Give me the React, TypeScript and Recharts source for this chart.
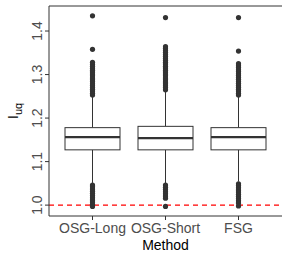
import React from 'react'
import { ComposedChart, Bar, Scatter, XAxis, YAxis, ReferenceLine } from 'recharts'

const methods = ['OSG-Long', 'OSG-Short', 'FSG']
const whiskerLow = [1.051, 1.05, 1.054]
const q1 = [1.127, 1.127, 1.127]
const median = [1.156, 1.154, 1.156]
const q3 = [1.178, 1.181, 1.178]
const whiskerHigh = [1.249, 1.262, 1.249]

const outliersLong = [
  1.253, 1.257, 1.262, 1.266, 1.27, 1.275, 1.279, 1.284, 1.288, 1.292, 1.297, 1.301,
  1.306, 1.31, 1.314, 1.319, 1.323, 1.328, 1.358, 1.435,
  1.046, 1.042, 1.037, 1.032, 1.027, 1.022, 1.017, 1.012, 1.007, 1.002, 0.997,
]
const outliersShort = [
  1.265, 1.27, 1.274, 1.279, 1.283, 1.288, 1.292, 1.297, 1.301, 1.306, 1.31, 1.315,
  1.319, 1.324, 1.328, 1.333, 1.337, 1.342, 1.346, 1.351, 1.355, 1.36, 1.364, 1.431,
  1.046, 1.041, 1.036, 1.031, 1.026, 1.021, 1.016, 0.997,
]
const outliersFSG = [
  1.253, 1.257, 1.262, 1.266, 1.271, 1.275, 1.28, 1.284, 1.289, 1.293, 1.298, 1.302,
  1.307, 1.311, 1.316, 1.32, 1.325, 1.354, 1.431,
  1.049, 1.045, 1.04, 1.035, 1.03, 1.025, 1.02, 1.015, 1.01, 1.005, 0.998,
]

const yTicks = [1.0, 1.1, 1.2, 1.3, 1.4]
const yDomain = [0.975, 1.4575]

const FONT = 'Liberation Sans, Arial, sans-serif'
const LINE = '#333333'

const boxData = methods.map((m, i) => ({
  method: m,
  range: [whiskerLow[i], whiskerHigh[i]],
  lo: whiskerLow[i], q1: q1[i], med: median[i], q3: q3[i], hi: whiskerHigh[i],
}))

const outlierData = [
  ...outliersLong.map(v => ({ method: methods[0], v })),
  ...outliersShort.map(v => ({ method: methods[1], v })),
  ...outliersFSG.map(v => ({ method: methods[2], v })),
]

function BoxShape(props: any) {
  const { x, y, width, height, payload } = props
  const { lo, q1, med, q3, hi } = payload
  const k = height / (hi - lo)
  const toY = (v: number) => y + (hi - v) * k
  const cx = x + width / 2
  return (
    <g>
      <line x1={cx} x2={cx} y1={toY(hi)} y2={toY(q3)} stroke={LINE} strokeWidth={1} />
      <line x1={cx} x2={cx} y1={toY(q1)} y2={toY(lo)} stroke={LINE} strokeWidth={1} />
      <rect x={x} y={toY(q3)} width={width} height={toY(q1) - toY(q3)} fill="#fff" stroke={LINE} strokeWidth={1} />
      <line x1={x} x2={x + width} y1={toY(med)} y2={toY(med)} stroke={LINE} strokeWidth={2.2} />
    </g>
  )
}

function YTick(props: any) {
  const { x, y, payload } = props
  return (
    <text transform={`translate(${x - 1},${y}) rotate(-90)`} textAnchor="middle" fill="#4d4d4d"
      fontSize={14} fontFamily={FONT}>
      {payload.value.toFixed(1)}
    </text>
  )
}

export default function App() {
  return (
    <div style={{ position: 'absolute', left: 0, top: 0, background: '#fff' }}>
      <ComposedChart width={290} height={260} data={boxData} margin={{ top: 6, right: 8, bottom: 0, left: 0 }}>
        <XAxis dataKey="method" type="category" allowDuplicatedCategory={false}
          padding={{ left: 7, right: 7 }} height={44}
          tickSize={4} tickMargin={3} tickLine={{ stroke: LINE }}
          axisLine={{ stroke: LINE }}
          tick={{ fill: '#4d4d4d', fontSize: 14, fontFamily: FONT }}
          label={{
            content: (p: any) => {
              const vb = p.viewBox
              return (
                <text x={vb.x + vb.width / 2} y={vb.y + 34} textAnchor="middle" fill="#000"
                  fontSize={14} fontFamily={FONT}>Method</text>
              )
            },
          }}
        />
        <YAxis domain={yDomain} ticks={yTicks} allowDataOverflow width={49} type="number"
          tickSize={4} tickMargin={2} tickLine={{ stroke: LINE }} axisLine={{ stroke: LINE }}
          tick={<YTick />}
          label={{
            content: (p: any) => {
              const vb = p.viewBox
              return (
                <text transform={`translate(18,${vb.y + vb.height / 2}) rotate(-90)`} textAnchor="middle"
                  fill="#000" fontSize={15} fontFamily={FONT}>
                  I<tspan fontSize={11} dy={4}>uq</tspan>
                </text>
              )
            },
          }}
        />
        <YAxis yAxisId="right" orientation="right" width={0} tick={false} tickLine={false}
          axisLine={{ stroke: LINE }} domain={yDomain} />
        <Bar dataKey="range" barSize={55} shape={<BoxShape />} isAnimationActive={false} />
        <Scatter data={outlierData} dataKey="v" isAnimationActive={false}
          shape={(p: any) => <circle cx={p.cx} cy={p.cy} r={2.6} fill={LINE} />} />
        <ReferenceLine y={1} stroke="#ff0000" strokeDasharray="5 4" strokeWidth={1.2} />
        <ReferenceLine y={yDomain[1]} stroke={LINE} strokeWidth={1} ifOverflow="visible" />
      </ComposedChart>
    </div>
  )
}
